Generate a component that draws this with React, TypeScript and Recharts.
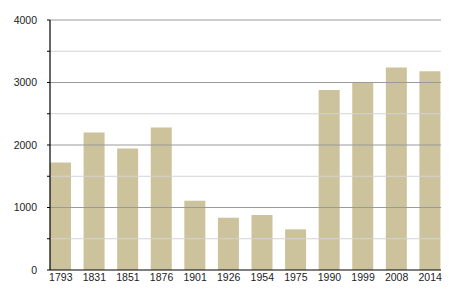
import React from 'react';
import { BarChart, Bar, XAxis, YAxis, ReferenceLine } from 'recharts';

const years = ['1793', '1831', '1851', '1876', '1901', '1926', '1954', '1975', '1990', '1999', '2008', '2014'];
const population = [1720, 2200, 1945, 2280, 1110, 835, 880, 650, 2880, 3000, 3240, 3180];
const yTicks = [0, 500, 1000, 1500, 2000, 2500, 3000, 3500, 4000];
const majorGrid = [1000, 2000, 3000, 4000];
const minorGrid = [500, 1500, 2500, 3500];

const data = years.map((year, i) => ({ year, value: population[i] }));

const font = { fontFamily: '"Liberation Sans", Arial, sans-serif', fontSize: 10.5, fill: '#222' };

export default function App() {
  return (
    <div style={{ position: 'absolute', left: 0, top: 0, background: '#fff' }}>
      <BarChart width={450} height={300} data={data} margin={{ top: 20, right: 9, bottom: 10, left: 0 }}>
        {minorGrid.map(v => (
          <ReferenceLine key={'m' + v} y={v} stroke="#d4d4d4" strokeWidth={1} />
        ))}
        {majorGrid.map(v => (
          <ReferenceLine key={'M' + v} y={v} stroke="#9a9a9a" strokeWidth={1} />
        ))}
        <XAxis
          dataKey="year"
          height={20}
          padding={{ left: -6, right: -6 }}
          axisLine={{ stroke: '#000', strokeWidth: 1.2 }}
          tickLine={false}
          tickSize={0}
          tickMargin={4}
          tick={font}
          interval={0}
        />
        <YAxis
          width={50}
          domain={[0, 4000]}
          ticks={yTicks}
          interval={0}
          axisLine={{ stroke: '#000', strokeWidth: 1.2 }}
          tickLine={{ stroke: '#000' }}
          tickSize={3}
          tickMargin={10}
          tick={font}
          tickFormatter={(v: number) => (v % 1000 === 0 ? String(v) : '')}
        />
        <Bar dataKey="value" fill="#ccc29b" barSize={21} isAnimationActive={false} />
      </BarChart>
    </div>
  );
}
